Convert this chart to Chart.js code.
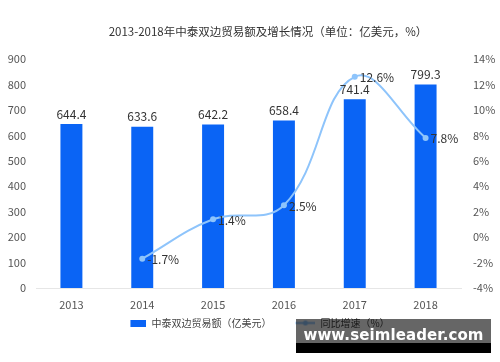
<!DOCTYPE html>
<html>
<head>
<meta charset="utf-8">
<script src="https://cdn.jsdelivr.net/npm/chart.js@4/dist/chart.umd.min.js"></script>
<style>
	body { margin: 0; background: #fff; }
	#wrap { position: relative; width: 500px; height: 362px; }
	#mark {
		position: absolute; left: 296px; top: 319px; width: 195px; height: 34px;
		background: linear-gradient(rgba(0,0,0,0.6) 0, rgba(0,0,0,0.6) 24px, #000 24px);
		color: #fff; font: bold 15px "DejaVu Sans", sans-serif;
		text-align: center; line-height: 33px; letter-spacing: 0.1px;
	}
</style>
</head>
<body>
<div id="wrap">
	<canvas id="tradeChart" width="500" height="362"></canvas>
	<div id="mark">www.seimleader.com</div>
</div>
<script>
const years = ["2013", "2014", "2015", "2016", "2017", "2018"];
const tradeValues = [644.4, 633.6, 642.2, 658.4, 741.4, 799.3];
const growthRates = [null, -1.7, 1.4, 2.5, 12.6, 7.8];
const tradeLabel = "中泰双边贸易额（亿美元）";
const growthLabel = "同比增速（%）";
const titleText = "2013-2018年中泰双边贸易额及增长情况（单位：亿美元，%）";

const barColor = "#0a64f5";
const lineColor = "#8ec4fb";
const font = "'Noto Sans CJK SC', sans-serif";
const iconSlot = 36;

// legend icons, drawn at the right end of the slot
function barIcon() {
	const c = document.createElement("canvas");
	c.width = iconSlot; c.height = 7;
	const g = c.getContext("2d");
	g.fillStyle = barColor;
	g.fillRect(iconSlot - 16, 0, 16, 7);
	return c;
}
function lineIcon() {
	const c = document.createElement("canvas");
	c.width = iconSlot; c.height = 7;
	const g = c.getContext("2d");
	g.strokeStyle = lineColor;
	g.lineWidth = 2;
	g.beginPath(); g.moveTo(iconSlot - 20, 3.5); g.lineTo(iconSlot, 3.5); g.stroke();
	g.fillStyle = lineColor;
	g.beginPath(); g.arc(iconSlot - 10, 3.5, 2.5, 0, Math.PI * 2); g.fill();
	return c;
}

// title (a bit right of centre, like the original) and value labels
const valueLabels = {
	id: "valueLabels",
	afterDatasetsDraw(chart) {
		const ctx = chart.ctx;
		ctx.save();
		ctx.fillStyle = "#333";
		ctx.font = "11.5px " + font;
		ctx.textAlign = "center";
		ctx.textBaseline = "middle";
		ctx.fillText(titleText, 268, 32);

		ctx.font = "12px " + font;
		chart.getDatasetMeta(0).data.forEach((bar, i) => {
			ctx.textAlign = "center";
			ctx.textBaseline = "bottom";
			ctx.fillText(tradeValues[i].toFixed(1), bar.x, bar.y - 4);
		});
		chart.getDatasetMeta(1).data.forEach((pt, i) => {
			if (growthRates[i] === null) return;
			ctx.textAlign = "left";
			ctx.textBaseline = "middle";
			ctx.fillText(growthRates[i].toFixed(1) + "%", pt.x + 5, pt.y + 1);
		});
		ctx.restore();
	}
};

const ctx = document.getElementById("tradeChart").getContext("2d");
new Chart(ctx, {
	type: "bar",
	data: {
		labels: years,
		datasets: [
			{
				type: "bar",
				label: tradeLabel,
				data: tradeValues,
				backgroundColor: barColor,
				yAxisID: "y",
				barPercentage: 0.62,
				categoryPercentage: 0.5,
				order: 2
			},
			{
				type: "line",
				label: growthLabel,
				data: growthRates,
				borderColor: lineColor,
				backgroundColor: lineColor,
				borderWidth: 2,
				pointRadius: 3,
				pointBorderWidth: 0,
				tension: 0.4,
				yAxisID: "y1",
				order: 1
			}
		]
	},
	options: {
		responsive: false,
		animation: false,
		layout: { padding: { left: 0, right: 0, top: 59, bottom: 24 } },
		plugins: {
			title: { display: false },
			legend: {
				position: "bottom",
				labels: {
					usePointStyle: true,
					pointStyleWidth: iconSlot,
					color: "#444",
					font: { family: font, size: 10 },
					padding: 8,
					generateLabels: () => [
						{ text: tradeLabel, pointStyle: barIcon(), fontColor: "#444", datasetIndex: 0 },
						{ text: growthLabel, pointStyle: lineIcon(), fontColor: "#444", datasetIndex: 1 }
					]
				}
			},
			tooltip: { enabled: false }
		},
		scales: {
			x: {
				grid: { display: false },
				border: { color: "#e6e6e6" },
				ticks: { color: "#555", font: { family: font, size: 11 }, padding: 2 },
				afterFit: (s) => { s.height = 22; }
			},
			y: {
				position: "left",
				min: 0,
				max: 900,
				ticks: { stepSize: 100, color: "#555", font: { family: font, size: 11 }, padding: 2 },
				grid: { display: false },
				border: { display: false },
				afterFit: (s) => { s.width = 36; }
			},
			y1: {
				position: "right",
				min: -4,
				max: 14,
				ticks: {
					stepSize: 2,
					color: "#555",
					font: { family: font, size: 11 },
					padding: 4,
					callback: (v) => v + "%"
				},
				grid: { display: false },
				border: { display: false },
				afterFit: (s) => { s.width = 39; }
			}
		}
	},
	plugins: [valueLabels]
});
</script>
</body>
</html>
